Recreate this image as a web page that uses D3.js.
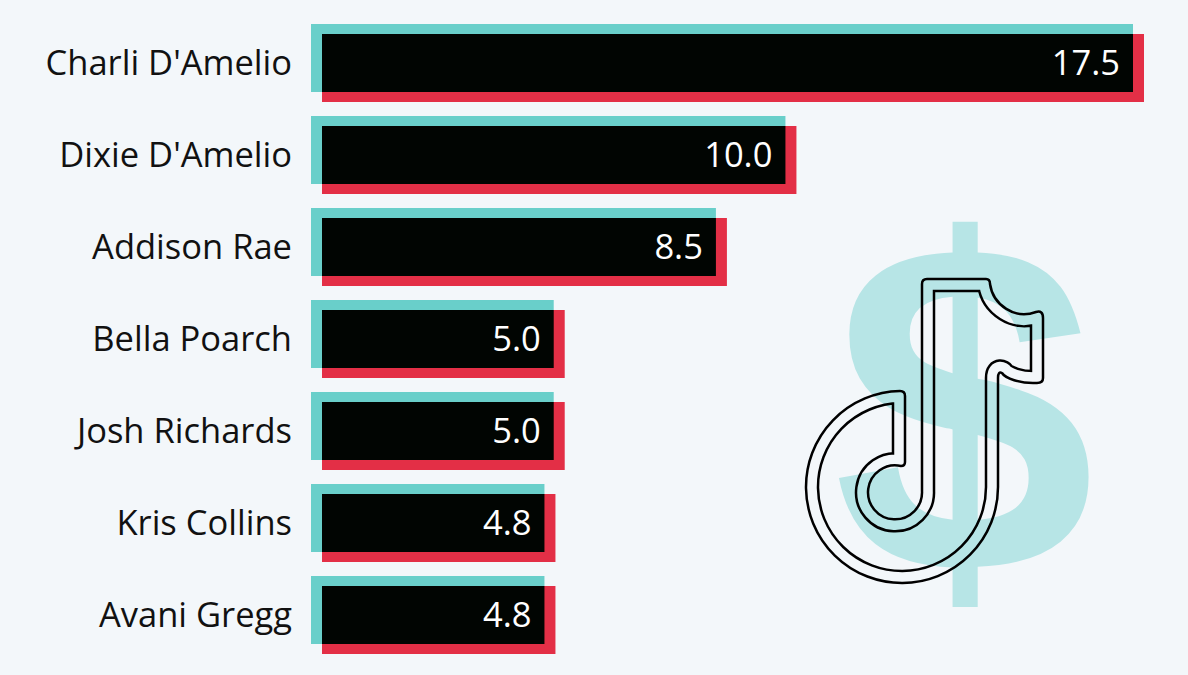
<!DOCTYPE html>
<html>
<head>
<meta charset="utf-8">
<script src="https://cdn.jsdelivr.net/npm/d3@7"></script>
<style>
  html, body { margin: 0; padding: 0; background: #f3f7fa; }
  svg { display: block; }
</style>
</head>
<body>
<div id="chart"></div>
<script>
// Data
const names = ["Charli D'Amelio", "Dixie D'Amelio", "Addison Rae", "Bella Poarch", "Josh Richards", "Kris Collins", "Avani Gregg"];
const earnings = [17.5, 10.0, 8.5, 5.0, 5.0, 4.8, 4.8];

const width = 1188;
const height = 675;
const left = 322;      // start of the black bars
const shift = 11;      // offset of the teal / red shadows
const barH = 58;

const svg = d3.select("#chart")
    .append("svg")
    .attr("width", width)
    .attr("height", height);

svg.append("rect")
    .attr("width", width)
    .attr("height", height)
    .attr("fill", "#f3f7fa");

// Decorative dollar sign
svg.append("text")
    .attr("x", 964)
    .attr("y", 572)
    .attr("text-anchor", "middle")
    .style("font-family", "'Liberation Sans', Arial, sans-serif")
    .style("font-weight", "bold")
    .style("font-size", "472px")
    .attr("fill", "#b7e5e6")
    .text("$");

// Decorative music note (double outline)
const note = "M 922 284 Q 922 279 927 279 L 986 279 Q 990 279 990 284 " +
    "C 993 305 1015 320 1036 312 Q 1043 310 1043 318 L 1043 378 Q 1043 383 1037 383 " +
    "C 1020 384 1005 378 1002 373 Q 998 371 998 378 L 998 487 " +
    "A 96 96 0 1 1 900 391 Q 905 391 905 396 L 905 462 Q 905 466 901 466 " +
    "A 27 27 0 1 0 922 491 Z";

const defs = svg.append("defs");
const mask = defs.append("mask").attr("id", "noteMask");
mask.append("path").attr("d", note).attr("fill", "none")
    .attr("stroke", "white").attr("stroke-width", 26.5).attr("stroke-linejoin", "round");
mask.append("path").attr("d", note).attr("fill", "none")
    .attr("stroke", "black").attr("stroke-width", 21.5).attr("stroke-linejoin", "round");
defs.append("clipPath").attr("id", "noteClip")
    .append("path").attr("d", note);

svg.append("g")
    .attr("clip-path", "url(#noteClip)")
    .append("rect")
    .attr("x", 780).attr("y", 260).attr("width", 300).attr("height", 340)
    .attr("fill", "#000")
    .attr("mask", "url(#noteMask)");

svg.append("path")
    .attr("d", note)
    .attr("fill", "none")
    .attr("stroke", "#000")
    .attr("stroke-width", 2.5)
    .attr("stroke-linejoin", "round");

// Scales
const x = d3.scaleLinear()
    .domain([0, 17.5])
    .range([0, 811]);

const y = d3.scaleBand()
    .domain(names)
    .range([24, 24 + names.length * 92])
    .padding(0);

const data = names.map((n, i) => ({ name: n, value: earnings[i] }));

const rows = svg.selectAll(".row")
    .data(data)
    .enter()
    .append("g")
    .attr("class", "row");

// teal shadow (up-left)
rows.append("rect")
    .attr("x", left - shift)
    .attr("y", d => y(d.name))
    .attr("width", d => x(d.value) + shift)
    .attr("height", barH + 10)
    .attr("fill", "#69cfca");

// red shadow (down-right)
rows.append("rect")
    .attr("x", left)
    .attr("y", d => y(d.name) + 10)
    .attr("width", d => x(d.value) + shift)
    .attr("height", barH + 10)
    .attr("fill", "#e32f46");

// black bar
rows.append("rect")
    .attr("x", left)
    .attr("y", d => y(d.name) + 10)
    .attr("width", d => x(d.value))
    .attr("height", barH)
    .attr("fill", "#010502");

// value labels
rows.append("text")
    .attr("x", d => left + x(d.value) - 13)
    .attr("y", d => y(d.name) + 10 + barH / 2 + 12)
    .attr("text-anchor", "end")
    .style("font-family", "'Open Sans', 'Noto Sans', sans-serif")
    .style("font-size", "34.5px")
    .attr("fill", "#ffffff")
    .text(d => d.value.toFixed(1));

// name labels
rows.append("text")
    .attr("x", 292)
    .attr("y", d => y(d.name) + 10 + barH / 2 + 12)
    .attr("text-anchor", "end")
    .style("font-family", "'Open Sans', 'Noto Sans', sans-serif")
    .style("font-size", "34.5px")
    .attr("fill", "#111111")
    .text(d => d.name);
</script>
</body>
</html>
